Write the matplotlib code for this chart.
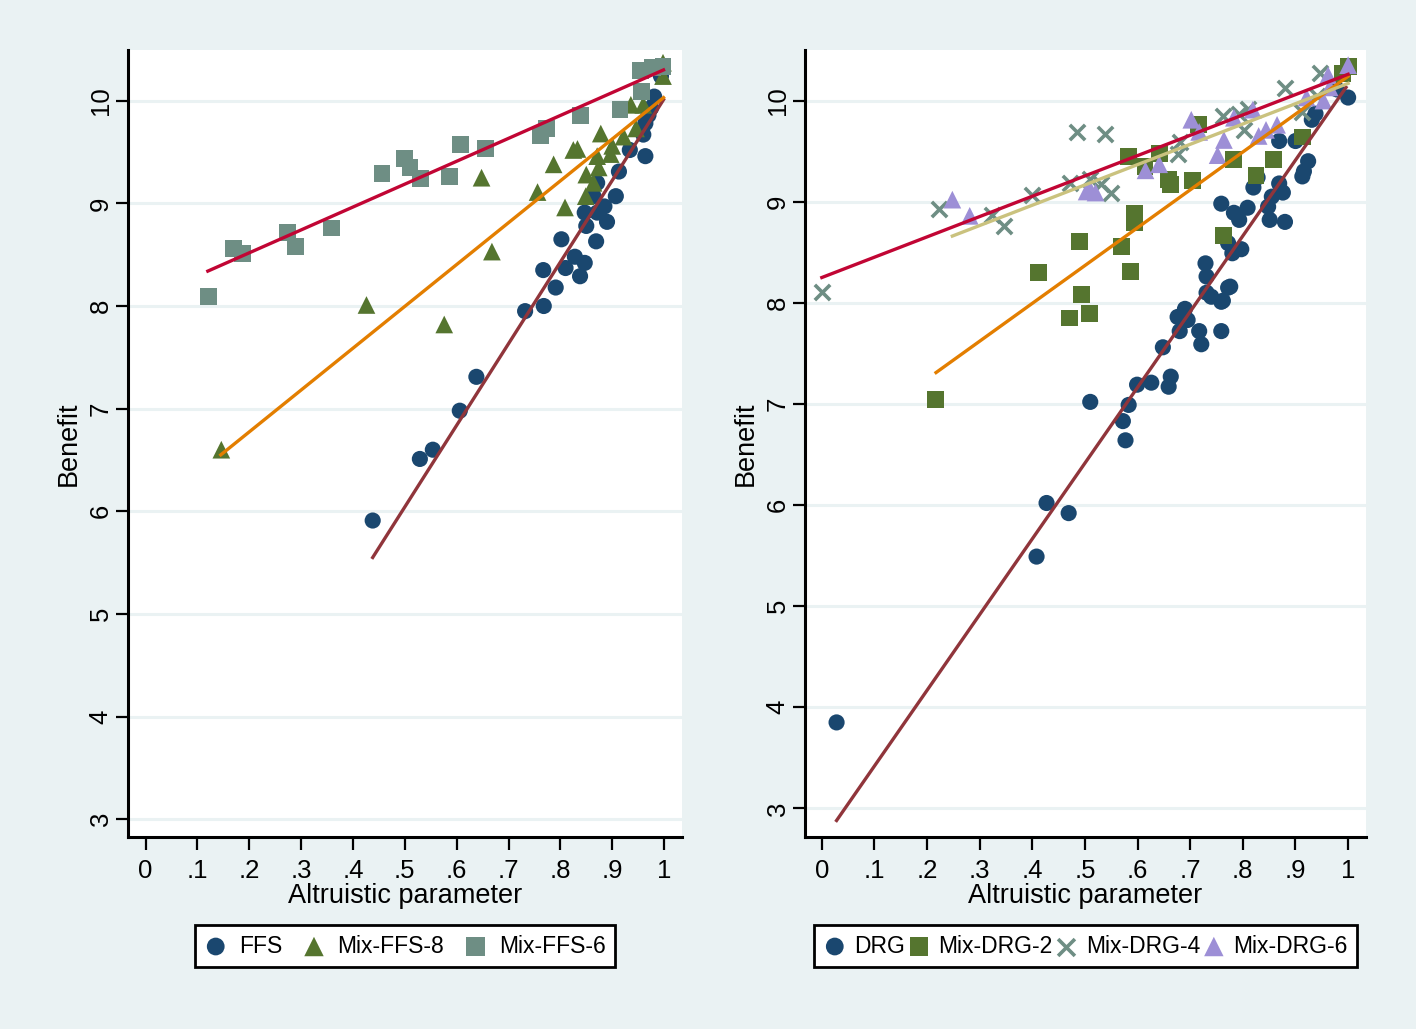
import numpy as np
import matplotlib
matplotlib.use("Agg")
import matplotlib.pyplot as plt

plt.rcParams['font.family'] = ['Liberation Sans', 'DejaVu Sans']

# ---- left panel data ----
ffs_x = [0.438, 0.529, 0.554, 0.606, 0.638, 0.732, 0.768, 0.791, 0.767, 0.810, 0.828, 0.847,
         0.838, 0.802, 0.869, 0.850, 0.890, 0.871, 0.847, 0.885, 0.907, 0.864, 0.871, 0.913,
         0.964, 0.934, 0.960, 0.964, 0.970, 0.981, 0.994, 0.975]
ffs_y = [5.91, 6.51, 6.60, 6.98, 7.31, 7.95, 8.00, 8.18, 8.35, 8.37, 8.48, 8.42,
         8.29, 8.65, 8.63, 8.78, 8.82, 8.91, 8.91, 8.97, 9.07, 9.07, 9.20, 9.31,
         9.46, 9.52, 9.67, 9.78, 9.86, 10.04, 10.24, 9.93]

ffs8_x = [0.146, 0.426, 0.576, 0.648, 0.668, 0.756, 0.787, 0.809, 0.833, 0.878, 0.900, 0.922,
          0.871, 0.850, 0.874, 0.864, 0.849, 0.946, 0.936, 0.960, 0.897, 0.998, 0.998, 0.825]
ffs8_y = [6.60, 8.01, 7.82, 9.25, 8.53, 9.11, 9.38, 8.96, 9.53, 9.68, 9.56, 9.65,
          9.46, 9.28, 9.35, 9.20, 9.07, 9.73, 9.96, 9.96, 9.48, 10.24, 10.37, 9.52]

ffs6_x = [0.122, 0.169, 0.187, 0.273, 0.289, 0.358, 0.456, 0.499, 0.510, 0.531, 0.586, 0.608,
          0.656, 0.761, 0.773, 0.838, 0.915, 0.957, 0.955, 0.977, 0.998]
ffs6_y = [8.09, 8.56, 8.51, 8.72, 8.58, 8.76, 9.29, 9.44, 9.35, 9.24, 9.26, 9.57,
          9.53, 9.66, 9.73, 9.86, 9.91, 10.09, 10.29, 10.32, 10.33]

# fitted lines (end points)
ffs_fit_x, ffs_fit_y = [0.438, 0.999], [5.55, 10.01]
ffs8_fit_x, ffs8_fit_y = [0.145, 0.999], [6.55, 10.03]
ffs6_fit_x, ffs6_fit_y = [0.120, 0.999], [8.34, 10.30]

# ---- right panel data ----
drg_x = [0.028, 0.408, 0.427, 0.469, 0.510, 0.577, 0.572, 0.583, 0.599, 0.626, 0.659, 0.663,
         0.648, 0.721, 0.759, 0.680, 0.717, 0.690, 0.676, 0.695, 0.731, 0.762, 0.776, 0.759,
         0.783, 0.809, 0.793, 0.828, 0.851, 0.855, 0.876, 0.869, 0.848, 0.869, 0.900, 0.913,
         0.924, 0.938, 0.931, 1.000, 0.979, 0.772, 0.797, 0.780, 0.729, 0.731, 0.772, 0.740,
         0.759, 0.820, 0.916, 0.880]
drg_y = [3.85, 5.49, 6.02, 5.92, 7.02, 6.64, 6.83, 6.99, 7.19, 7.21, 7.17, 7.27,
         7.56, 7.59, 7.72, 7.72, 7.72, 7.94, 7.86, 7.83, 8.10, 8.02, 8.16, 8.98,
         8.89, 8.94, 8.82, 9.24, 8.82, 9.05, 9.09, 9.18, 8.95, 9.60, 9.60, 9.25,
         9.40, 9.87, 9.81, 10.03, 10.11, 8.59, 8.53, 8.49, 8.39, 8.26, 8.15, 8.06,
         8.01, 9.14, 9.30, 8.80]

drg2_x = [0.216, 0.412, 0.471, 0.493, 0.509, 0.490, 0.569, 0.587, 0.594, 0.594, 0.583, 0.641,
          0.614, 0.659, 0.663, 0.705, 0.716, 0.764, 0.783, 0.825, 0.859, 0.913, 0.990, 1.000]
drg2_y = [7.04, 8.30, 7.85, 8.08, 7.89, 8.61, 8.56, 8.31, 8.88, 8.79, 9.45, 9.48,
          9.35, 9.22, 9.17, 9.21, 9.76, 8.67, 9.42, 9.26, 9.42, 9.64, 10.27, 10.34]

drg4_x = [0.000, 0.223, 0.324, 0.346, 0.400, 0.484, 0.538, 0.472, 0.510, 0.531, 0.550, 0.680,
          0.677, 0.762, 0.803, 0.810, 0.793, 0.881, 0.913, 0.947, 0.940]
drg4_y = [8.11, 8.93, 8.87, 8.76, 9.07, 9.69, 9.67, 9.18, 9.22, 9.17, 9.09, 9.59,
          9.47, 9.85, 9.71, 9.92, 9.87, 10.12, 9.89, 10.27, 10.05]

drg6_x = [0.248, 0.281, 0.503, 0.520, 0.510, 0.615, 0.641, 0.702, 0.717, 0.752, 0.764, 0.783,
          0.819, 0.830, 0.844, 0.865, 0.921, 0.962, 0.965, 1.000, 0.953]
drg6_y = [9.02, 8.86, 9.10, 9.09, 9.12, 9.31, 9.37, 9.81, 9.69, 9.46, 9.61, 9.83,
          9.91, 9.65, 9.71, 9.76, 10.03, 10.25, 10.13, 10.35, 10.00]

drg_fit_x, drg_fit_y = [0.028, 0.996], [2.88, 10.13]
drg2_fit_x, drg2_fit_y = [0.217, 1.000], [7.31, 10.24]
drg4_fit_x, drg4_fit_y = [0.000, 1.000], [8.25, 10.26]
drg6_fit_x, drg6_fit_y = [0.248, 1.000], [8.66, 10.17]

x_ticks = [0, .1, .2, .3, .4, .5, .6, .7, .8, .9, 1]
x_ticklabels = ["0", ".1", ".2", ".3", ".4", ".5", ".6", ".7", ".8", ".9", "1"]
y_ticks = [3, 4, 5, 6, 7, 8, 9, 10]

# stata s2color-ish palette
navy = '#1a476f'
green = '#55752f'
teal = '#6e8e84'
lavender = '#9d8fd6'
maroon = '#90353b'
orange = '#e37e00'
cranberry = '#c10534'
khaki = '#cac27e'
bg = '#eaf2f3'

fig = plt.figure(figsize=(14.16, 10.29), dpi=100)
fig.patch.set_facecolor(bg)

ax1 = fig.add_axes([0.0904, 0.1869, 0.3910, 0.7645])
ax2 = fig.add_axes([0.5685, 0.1869, 0.3962, 0.7645])


def style(ax, xlim, ylim):
    ax.set_facecolor('white')
    ax.set_xlim(*xlim)
    ax.set_ylim(*ylim)
    ax.set_xticks(x_ticks)
    ax.set_xticklabels(x_ticklabels)
    ax.set_yticks(y_ticks)
    ax.set_yticklabels([str(v) for v in y_ticks], rotation=90, va='center')
    ax.tick_params(axis='both', length=9, width=1.6, labelsize=18.5, direction='out')
    ax.tick_params(axis='x', pad=7)
    ax.tick_params(axis='y', pad=2)
    for s in ['top', 'right']:
        ax.spines[s].set_visible(False)
    for s in ['left', 'bottom']:
        ax.spines[s].set_linewidth(2.2)
    ax.grid(axis='y', color=bg, linewidth=2.2)
    ax.set_axisbelow(True)
    ax.set_xlabel("Altruistic parameter", fontsize=19.5, labelpad=0)
    ax.set_ylabel("Benefit", fontsize=19.5, labelpad=5)


style(ax1, (-0.034, 1.034), (2.83, 10.494))
style(ax2, (-0.032, 1.034), (2.72, 10.50))

ms = 135
ax1.scatter(ffs_x, ffs_y, s=ms, marker='o', color=navy, edgecolors='none', label='FFS', zorder=3)
ax1.scatter(ffs8_x, ffs8_y, s=ms * 1.2, marker='^', color=green, edgecolors='none', label='Mix-FFS-8', zorder=3)
ax1.scatter(ffs6_x, ffs6_y, s=ms * 1.1, marker='s', color=teal, edgecolors='none', label='Mix-FFS-6', zorder=3)
ax1.plot(ffs_fit_x, ffs_fit_y, color=maroon, lw=2.4, zorder=4)
ax1.plot(ffs8_fit_x, ffs8_fit_y, color=orange, lw=2.4, zorder=4)
ax1.plot(ffs6_fit_x, ffs6_fit_y, color=cranberry, lw=2.4, zorder=4)

ax2.scatter(drg_x, drg_y, s=ms, marker='o', color=navy, edgecolors='none', label='DRG', zorder=3)
ax2.scatter(drg2_x, drg2_y, s=ms * 1.1, marker='s', color=green, edgecolors='none', label='Mix-DRG-2', zorder=3)
ax2.scatter(drg4_x, drg4_y, s=ms * 0.9, marker='x', color=teal, linewidths=2.6, label='Mix-DRG-4', zorder=3)
ax2.scatter(drg6_x, drg6_y, s=ms * 1.2, marker='^', color=lavender, edgecolors='none', label='Mix-DRG-6', zorder=3)
ax2.plot(drg_fit_x, drg_fit_y, color=maroon, lw=2.4, zorder=4)
ax2.plot(drg2_fit_x, drg2_fit_y, color=orange, lw=2.4, zorder=4)
ax2.plot(drg4_fit_x, drg4_fit_y, color=cranberry, lw=2.4, zorder=4)
ax2.plot(drg6_fit_x, drg6_fit_y, color=khaki, lw=2.4, zorder=4)

# legends sit in a box under each panel, markers only
for ax, n in [(ax1, 3), (ax2, 4)]:
    leg = ax.legend(loc='center', bbox_to_anchor=(0.5, -0.139), ncol=n, fontsize=16.5,
                    frameon=True, fancybox=False, edgecolor='black', framealpha=1,
                    handletextpad=0.5 if n == 3 else 0.35,
                    columnspacing=0.9 if n == 3 else 0.1,
                    borderpad=0.4, handlelength=1.0, borderaxespad=0, markerscale=1.1)
    leg.get_frame().set_linewidth(2.0)

fig.savefig("out.png", dpi=100, facecolor=bg)
